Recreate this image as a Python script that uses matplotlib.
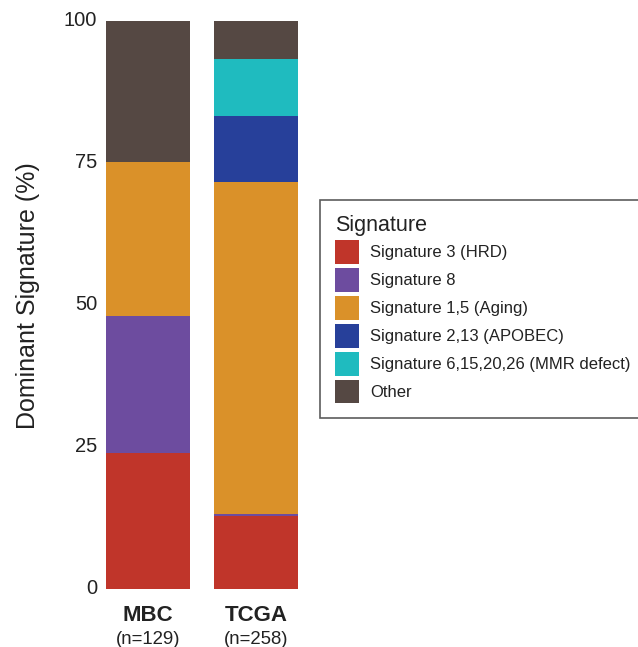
import matplotlib
matplotlib.use("Agg")
import matplotlib.pyplot as plt
from matplotlib.patches import Patch
import matplotlib.transforms as mtransforms
import numpy as np

plt.rcParams['font.family'] = ['Liberation Sans', 'DejaVu Sans']

cohorts = ["MBC", "TCGA"]
cohort_n = ["(n=129)", "(n=258)"]
signatures = ["Signature 3 (HRD)", "Signature 8", "Signature 1,5 (Aging)",
              "Signature 2,13 (APOBEC)", "Signature 6,15,20,26 (MMR defect)", "Other"]
colors = ["#C0352A", "#6D4C9F", "#DA9129", "#27409A", "#1FBBBF", "#554843"]
# percent of samples per dominant signature, per cohort
mbc = [24.0, 24.0, 27.2, 0.0, 0.0, 24.8]
tcga = [12.8, 0.4, 58.5, 11.6, 10.1, 6.6]
yticks = [0, 25, 50, 75, 100]

values = np.array([mbc, tcga])
x = np.arange(len(cohorts))

fig = plt.figure(figsize=(6.38, 6.47), dpi=100)
ax = fig.add_axes([0.1558, 0.0896, 0.3213, 0.8779])

bottom = np.zeros(len(cohorts))
for i, sig in enumerate(signatures):
    ax.bar(x, values[:, i], bottom=bottom, width=0.78, color=colors[i],
           edgecolor='none', linewidth=0)
    bottom += values[:, i]

ax.set_xlim(-0.45, 1.45)
ax.set_ylim(0, 100)
ax.set_yticks(yticks)
ax.set_yticklabels([str(t) for t in yticks], fontsize=14.5, color='#222222')
ax.tick_params(axis='y', length=0, pad=1.5)
offset = mtransforms.ScaledTranslation(0, 3 / 100, fig.dpi_scale_trans)
for lab in ax.get_yticklabels():
    lab.set_transform(lab.get_transform() + offset)
ax.set_xticks(x)
ax.set_xticklabels([""] * len(cohorts))
ax.tick_params(axis='x', length=0)
for xi, name, n in zip(x, cohorts, cohort_n):
    ax.text(xi, -4.7, name, ha='center', va='center', fontsize=16, fontweight='bold',
            color='#222222')
    ax.text(xi, -8.8, n, ha='center', va='center', fontsize=13.4, color='#222222')
for s in ax.spines.values():
    s.set_visible(False)
ax.set_ylabel("Dominant Signature (%)", fontsize=18, color='#222222')
ax.yaxis.set_label_coords(-0.29, 0.516)

handles = [Patch(facecolor=c, edgecolor='none') for c in colors]
leg = fig.legend(handles, signatures, loc='upper left',
                 bbox_to_anchor=(320 / 638, 1 - 200 / 647),
                 fontsize=12, title="Signature", title_fontsize=15.5,
                 alignment='left', frameon=True, fancybox=False,
                 handlelength=1.44, handleheight=1.83, labelspacing=0.24,
                 handletextpad=0.66, borderpad=0.9, borderaxespad=0)
frame = leg.get_frame()
frame.set_edgecolor('#333333')
frame.set_linewidth(1.2)
for t in leg.get_texts():
    t.set_color('#222222')
leg.get_title().set_color('#222222')

fig.savefig("out.png", dpi=100)
